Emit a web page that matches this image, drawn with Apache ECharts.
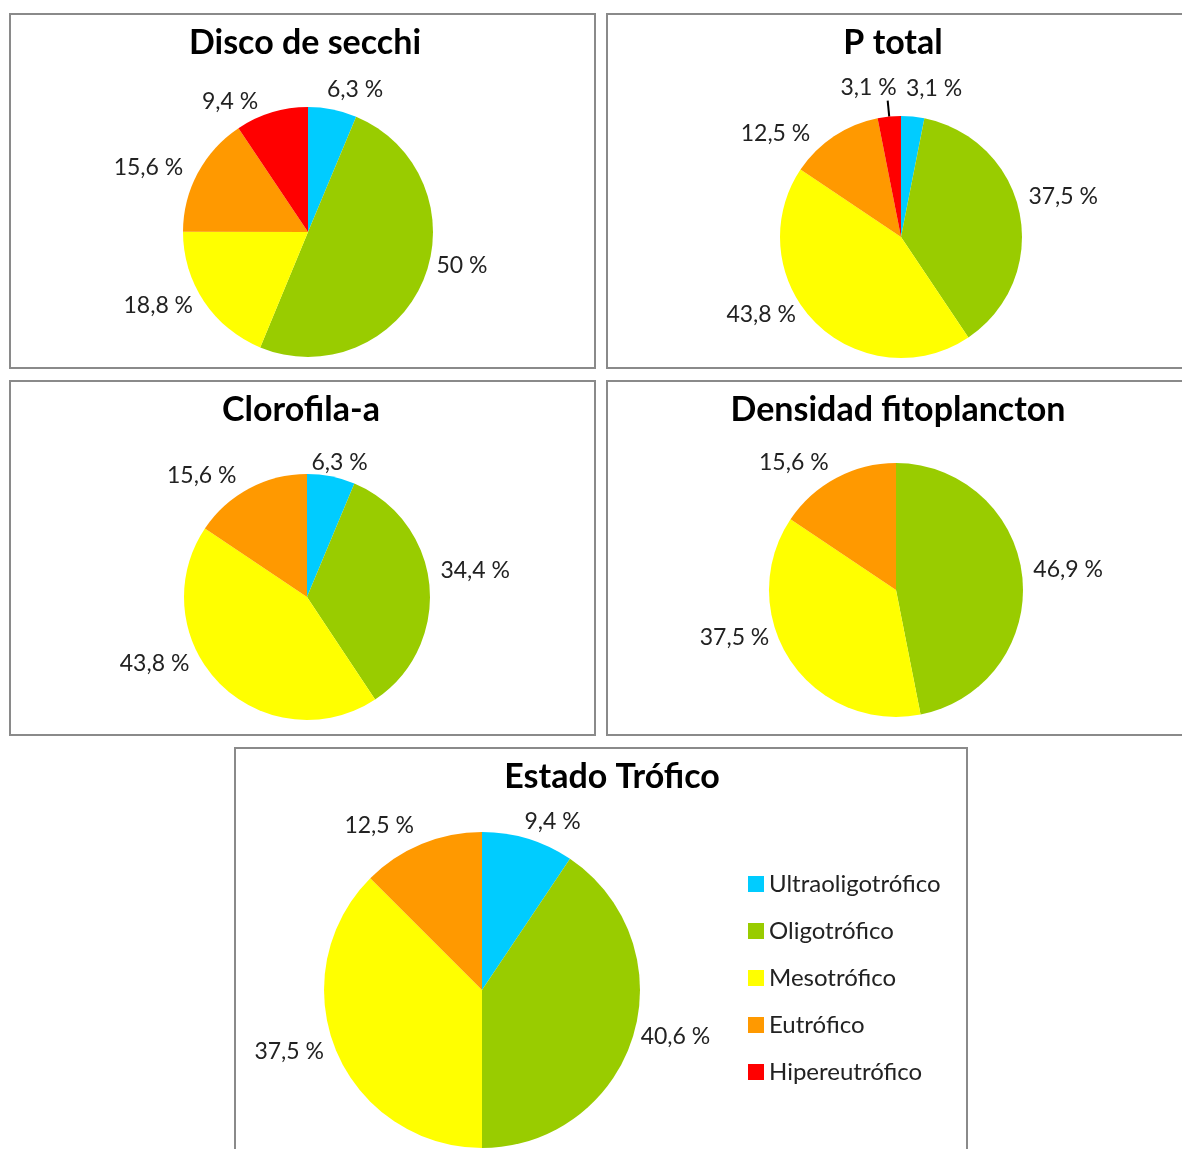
<!DOCTYPE html>
<html>
<head>
<meta charset="utf-8">
<script src="https://cdn.jsdelivr.net/npm/echarts@6/dist/echarts.min.js"></script>
<style>
html,body{margin:0;padding:0;background:#fff;}
#chart{width:1182px;height:1149px;}
</style>
</head>
<body>
<div id="chart"></div>
<script>
const categories = ['Ultraoligotrófico', 'Oligotrófico', 'Mesotrófico', 'Eutrófico', 'Hipereutrófico'];
const categoryColors = ['#00CCFF', '#99CC00', '#FFFF00', '#FF9900', '#FF0000'];
const chartTitles = ['Disco de secchi', 'P total', 'Clorofila-a', 'Densidad fitoplancton', 'Estado Trófico'];
const discoValues = [6.3, 50, 18.8, 15.6, 9.4];
const pTotalValues = [3.1, 37.5, 43.8, 12.5, 3.1];
const clorofilaValues = [6.3, 34.4, 43.8, 15.6, 0];
const densidadValues = [0, 46.9, 37.5, 15.6, 0];
const estadoValues = [9.4, 40.6, 37.5, 12.5, 0];

const FONT = 'Lato, "Open Sans", sans-serif';

// panel layout (style only)
const panels = [
  {box: [10, 14, 585, 354], center: [308, 232], r: 125, title: [305, 26]},
  {box: [607, 14, 600, 354], center: [901, 237], r: 121, title: [893, 26]},
  {box: [10, 381, 585, 354], center: [307, 597], r: 123, title: [301, 393]},
  {box: [607, 381, 600, 354], center: [896, 590], r: 127, title: [898, 393]},
  {box: [235, 748, 732, 430], center: [482, 990], r: 158, title: [612, 760]}
];
// label nudges (style only), [dx, dy] per panel and category, mimicking the original label placement
const labelNudges = [
  [[-13, -8], [-3, -19], [4, -2], [1, 0], [-5, 1]],
  [[-13, -16], [-8, -14], [-6, -16], [-12, 7], [14, -13]],
  [[-27, -2], [-6, -14], [-17, -29], [-2, -2], [0, 0]],
  [[0, 0], [-6, -7], [-6, -29], [3, -5], [0, 0]],
  [[-12, -6], [-9, -3], [4, -3], [2, -7], [0, 0]]
];
const seriesValues = [discoValues, pTotalValues, clorofilaValues, densidadValues, estadoValues];

function fmt(v) {
  return String(v).replace('.', ',') + ' %';
}

const series = seriesValues.map(function (vals, si) {
  const p = panels[si];
  const data = [];
  vals.forEach(function (v, i) {
    if (v > 0) {
      const item = {name: categories[i], value: v, catIndex: i, itemStyle: {color: categoryColors[i]}};
      if (si === 1 && i === 4) {
        item.labelLine = {show: true, length: 16, length2: 0, lineStyle: {color: '#000', width: 2}};
      }
      data.push(item);
    }
  });
  return {
    type: 'pie',
    name: chartTitles[si],
    center: p.center,
    radius: [0, p.r],
    startAngle: 90,
    clockwise: true,
    animation: false,
    avoidLabelOverlap: true,
    label: {
      show: true,
      position: 'outside',
      formatter: function (prm) { return fmt(prm.value); },
      fontFamily: FONT,
      fontSize: 23,
      color: '#222'
    },
    labelLine: {show: false, length: 12, length2: 0},
    labelLayout: function (prm) {
      const d = data[prm.dataIndex];
      const n = labelNudges[si][d.catIndex];
      return {dx: n[0], dy: n[1]};
    },
    emphasis: {disabled: true},
    data: data
  };
});

const titles = panels.map(function (p, i) {
  return {
    text: chartTitles[i],
    left: p.title[0],
    top: p.title[1],
    textAlign: 'center',
    padding: 0,
    textStyle: {fontFamily: FONT, fontSize: 34, fontWeight: 'bold', color: '#000'}
  };
});

const graphics = panels.map(function (p) {
  return {
    type: 'rect',
    shape: {x: p.box[0], y: p.box[1], width: p.box[2], height: p.box[3]},
    style: {fill: 'none', stroke: '#8a8a8a', lineWidth: 2},
    silent: true,
    z: -1
  };
});

const chart = echarts.init(document.getElementById('chart'), null, {renderer: 'canvas'});
chart.setOption({
  backgroundColor: '#fff',
  animation: false,
  title: titles,
  graphic: graphics,
  legend: {
    data: categories,
    orient: 'vertical',
    left: 748,
    top: 871,
    padding: 0,
    itemWidth: 16,
    itemHeight: 16,
    itemGap: 21,
    icon: 'rect',
    selectedMode: false,
    textStyle: {fontFamily: FONT, fontSize: 24, lineHeight: 26, color: '#222'}
  },
  series: series
});
</script>
</body>
</html>
